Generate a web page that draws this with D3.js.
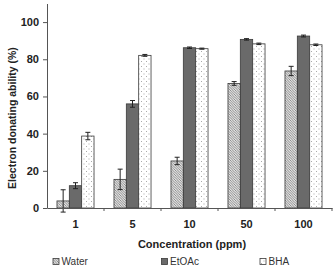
<!DOCTYPE html>
<html>
<head>
<meta charset="utf-8">
<script src="https://cdn.jsdelivr.net/npm/d3@7"></script>
<style>
  body { margin: 0; background: #fff; }
  svg { display: block; font-family: "Liberation Sans", Arial, sans-serif; }
</style>
</head>
<body>
<svg id="chart" width="334" height="269"></svg>
<script>
// data
var categories = ["1", "5", "10", "50", "100"];
var seriesNames = ["Water", "EtOAc", "BHA"];
var waterVals = [3.8, 15.4, 25.3, 67.0, 73.7];
var waterErr  = [6.0, 5.5, 2.0, 1.0, 2.5];
var etoacVals = [12.0, 56.0, 86.2, 90.7, 92.5];
var etoacErr  = [1.6, 1.8, 0.4, 0.4, 0.5];
var bhaVals   = [38.7, 82.1, 85.7, 88.3, 87.8];
var bhaErr    = [2.0, 0.5, 0.3, 0.4, 0.4];
var yTicks = [0, 20, 40, 60, 80, 100];

(function () {
    var svg = d3.select("#chart");

    var plotLeft = 47, plotRight = 332, plotTop = 3.5, plotBottom = 208;

    var x0 = d3.scaleBand().domain(categories).range([plotLeft, plotRight])
        .paddingInner(0.35).paddingOuter(0.175);
    var x1 = d3.scaleBand().domain(seriesNames).range([0, x0.bandwidth()]);
    var y = d3.scaleLinear().domain([0, 110]).range([plotBottom, plotTop]);

    // patterns
    var defs = svg.append("defs");
    var hatch = defs.append("pattern").attr("id", "hatch")
        .attr("patternUnits", "userSpaceOnUse").attr("width", 2.5).attr("height", 2.5);
    hatch.append("rect").attr("width", 2.5).attr("height", 2.5).attr("fill", "#e2e2e2");
    hatch.append("path").attr("d", "M-1,-1 L3.5,3.5 M-1,1.5 L1,3.5 M1.5,-1 L3.5,1")
        .attr("stroke", "#777").attr("stroke-width", 0.8);

    var dots = defs.append("pattern").attr("id", "dots")
        .attr("patternUnits", "userSpaceOnUse").attr("width", 5).attr("height", 5);
    dots.append("rect").attr("width", 5).attr("height", 5).attr("fill", "#fff");
    dots.append("rect").attr("x", 1).attr("y", 1).attr("width", 1).attr("height", 1).attr("fill", "#aaa");
    dots.append("rect").attr("x", 3.5).attr("y", 3.5).attr("width", 1).attr("height", 1).attr("fill", "#aaa");

    var fills = { "Water": "url(#hatch)", "EtOAc": "#6a6a6a", "BHA": "url(#dots)" };

    var rows = [];
    categories.forEach(function (c, i) {
        rows.push({ cat: c, name: "Water", v: waterVals[i], e: waterErr[i] });
        rows.push({ cat: c, name: "EtOAc", v: etoacVals[i], e: etoacErr[i] });
        rows.push({ cat: c, name: "BHA", v: bhaVals[i], e: bhaErr[i] });
    });

    // bars
    svg.append("g").selectAll("rect").data(rows).enter().append("rect")
        .attr("x", function (d) { return x0(d.cat) + x1(d.name); })
        .attr("y", function (d) { return y(d.v); })
        .attr("width", x1.bandwidth())
        .attr("height", function (d) { return y(0) - y(d.v); })
        .attr("fill", function (d) { return fills[d.name]; })
        .attr("stroke", "#3a3a3a")
        .attr("stroke-width", 0.8);

    // error bars
    var eb = svg.append("g").attr("stroke", "#222").attr("stroke-width", 1);
    rows.forEach(function (d) {
        var cx = x0(d.cat) + x1(d.name) + x1.bandwidth() / 2;
        eb.append("line").attr("x1", cx).attr("x2", cx)
            .attr("y1", y(d.v - d.e)).attr("y2", y(d.v + d.e));
        [d.v - d.e, d.v + d.e].forEach(function (t) {
            eb.append("line").attr("x1", cx - 2.5).attr("x2", cx + 2.5)
                .attr("y1", y(t)).attr("y2", y(t));
        });
    });

    // y axis
    var yAxis = svg.append("g").attr("transform", "translate(" + plotLeft + ",0)")
        .call(d3.axisLeft(y).tickValues(yTicks).tickSize(4).tickSizeOuter(0));
    yAxis.attr("font-family", null);
    yAxis.select(".domain").attr("stroke", "#555");
    yAxis.selectAll(".tick line").attr("stroke", "#555");
    yAxis.selectAll("text").attr("font-size", 11).attr("font-weight", "bold")
        .attr("fill", "#222").attr("x", -8);

    // x axis
    var xAxis = svg.append("g").attr("transform", "translate(0," + plotBottom + ")")
        .call(d3.axisBottom(x0).tickSize(0).tickPadding(12));
    xAxis.attr("font-family", null);
    xAxis.select(".domain").attr("stroke", "#555");
    xAxis.selectAll("text").attr("font-size", 11).attr("font-weight", "bold").attr("fill", "#222");
    var step = x0.step();
    categories.forEach(function (c, i) {
        var bx = plotLeft + step * (i + 1);
        xAxis.append("line").attr("x1", bx).attr("x2", bx).attr("y1", 0).attr("y2", 3)
            .attr("stroke", "#555");
    });

    // titles
    svg.append("text").attr("transform", "translate(13," + ((y(0) + y(100)) / 2 + 3) + ") rotate(-90)")
        .attr("text-anchor", "middle").attr("dominant-baseline", "middle")
        .attr("font-size", 10.5).attr("font-weight", "bold").attr("fill", "#222")
        .text("Electron donating ability (%)");

    svg.append("text").attr("x", 192).attr("y", 248)
        .attr("text-anchor", "middle")
        .attr("font-size", 11).attr("font-weight", "bold").attr("fill", "#222")
        .text("Concentration (ppm)");

    // legend
    var legX = [53, 161.5, 260];
    var leg = svg.append("g").selectAll("g").data(seriesNames).enter().append("g")
        .attr("transform", function (d, i) { return "translate(" + legX[i] + ",262)"; });
    leg.append("rect").attr("x", 0).attr("y", -3.5).attr("width", 6).attr("height", 6)
        .attr("fill", function (d) { return fills[d]; })
        .attr("stroke", "#3a3a3a").attr("stroke-width", 0.8);
    leg.append("text").attr("x", 8.5).attr("y", 0).attr("dominant-baseline", "middle")
        .attr("font-size", 10).attr("fill", "#333")
        .text(function (d) { return d; });
})();
</script>
</body>
</html>
